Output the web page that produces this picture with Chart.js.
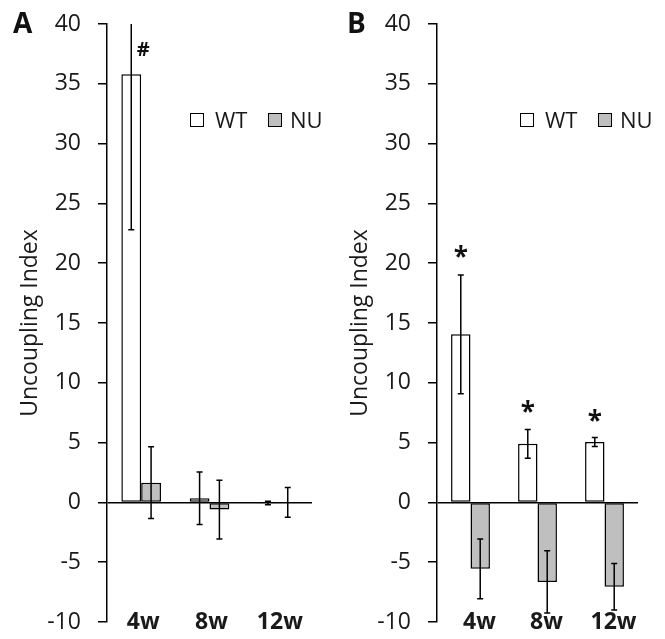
<!DOCTYPE html>
<html><head><meta charset="utf-8">
<script src="https://cdn.jsdelivr.net/npm/chart.js@4.4.1/dist/chart.umd.min.js"></script>
<style>
body{margin:0;background:#fff;}
#wrap{position:relative;width:665px;height:639px;overflow:hidden;font-family:"Open Sans",sans-serif;color:#1a1a1a;background:#fff;}
canvas{position:absolute;top:0;}
.panel{position:absolute;font-weight:bold;font-size:28px;line-height:1;color:#111;}
.lt{position:absolute;font-size:22px;line-height:1;top:108px;color:#1a1a1a;}
.box{position:absolute;width:12px;height:12px;border:1.5px solid #000;top:113px;}
</style></head>
<body><div id="wrap">
<canvas id="cA" width="330" height="639" style="left:0;width:330px;height:639px"></canvas>
<canvas id="cB" width="335" height="639" style="left:330px;width:335px;height:639px"></canvas>
<div class="panel" style="left:13px;top:8px">A</div>
<div class="panel" style="left:347px;top:8px">B</div>
<div class="box" style="left:190px;background:#fff"></div><div class="lt" style="left:215px">WT</div>
<div class="box" style="left:268px;background:#bfbfbf"></div><div class="lt" style="left:290px">NU</div>
<div class="box" style="left:520px;background:#fff"></div><div class="lt" style="left:545px">WT</div>
<div class="box" style="left:598px;background:#bfbfbf"></div><div class="lt" style="left:620px">NU</div>
</div>
<script>
const categories = ['4w', '8w', '12w'];
const seriesNames = ['WT', 'NU'];
const yTicks = { min: -10, max: 40, step: 5 };
const axisTitle = 'Uncoupling Index';

// Panel A
const wtA = [35.8, 0.35, -0.05];
const wtErrA = [13.0, 2.2, 0.15];
const nuA = [1.65, -0.6, 0.0];
const nuErrA = [3.0, 2.45, 1.25];
const wtMarkA = ['#', '', ''];
const wtMarkValA = [37.9, null, null];

// Panel B
const wtB = [14.05, 4.9, 5.05];
const wtErrB = [4.97, 1.2, 0.37];
const nuB = [-5.55, -6.65, -7.05];
const nuErrB = [2.5, 2.6, 1.95];
const wtMarkB = ['*', '*', '*'];
const wtMarkValB = [21.0, 8.0, 7.3];

const FONT = '"Open Sans", sans-serif';
const TXT = '#1a1a1a';

const errPlugin = {
  id: 'errbars',
  afterDatasetsDraw(chart, args, opts) {
    const { ctx, chartArea: ca } = chart;
    const y = chart.scales.y;
    ctx.save();
    ctx.strokeStyle = '#000';
    ctx.lineWidth = 1.5;
    chart.data.datasets.forEach((ds, di) => {
      const meta = chart.getDatasetMeta(di);
      ds.errors.forEach((e, i) => {
        const v = ds.data[i];
        const x = meta.data[i].x;
        let yh = y.getPixelForValue(v + e);
        let yl = y.getPixelForValue(v - e);
        const capH = yh >= ca.top - 0.5;
        const capL = yl <= ca.bottom + 0.5;
        yh = Math.max(yh, ca.top);
        yl = Math.min(yl, ca.bottom);
        ctx.beginPath();
        ctx.moveTo(x, yh); ctx.lineTo(x, yl);
        if (capH) { ctx.moveTo(x - 3, yh); ctx.lineTo(x + 3, yh); }
        if (capL) { ctx.moveTo(x - 3, yl); ctx.lineTo(x + 3, yl); }
        ctx.stroke();
      });
      if (ds.marks) {
        ds.marks.forEach((t, i) => {
          if (!t) return;
          const x = meta.data[i].x + (opts.dx || 0);
          const yy = y.getPixelForValue(ds.markValues[i]);
          ctx.font = opts.font;
          ctx.fillStyle = '#111';
          ctx.textAlign = 'center';
          ctx.textBaseline = 'alphabetic';
          const m = ctx.measureText(t);
          const off = (m.actualBoundingBoxAscent - m.actualBoundingBoxDescent) / 2;
          ctx.fillText(t, x, yy + off);
        });
      }
    });
    ctx.restore();
  }
};

function makeChart(id, wt, wtErr, nu, nuErr, marks, markVals, rightPad, labelOffset, markOpts) {
  return new Chart(document.getElementById(id), {
    type: 'bar',
    data: {
      labels: categories,
      datasets: [
        { label: seriesNames[0], data: wt, errors: wtErr, marks: marks, markValues: markVals,
          backgroundColor: '#ffffff', borderColor: '#000', borderWidth: 1.5, borderSkipped: false },
        { label: seriesNames[1], data: nu, errors: nuErr,
          backgroundColor: '#bfbfbf', borderColor: '#000', borderWidth: 1.5, borderSkipped: false }
      ]
    },
    options: {
      responsive: false,
      animation: false,
      devicePixelRatio: 1,
      layout: { padding: { top: 24, right: rightPad, left: 0, bottom: 0 } },
      plugins: { legend: { display: false }, tooltip: { enabled: false }, errbars: markOpts },
      datasets: { bar: { categoryPercentage: 0.58, barPercentage: 1.0 } },
      scales: {
        x: {
          grid: { display: false, drawTicks: false },
          border: { display: false },
          ticks: { font: { family: FONT, size: 23, weight: 'bold' }, color: TXT, padding: -13.8, mirror: true, labelOffset: labelOffset, maxRotation: 0, autoSkip: false },
          afterFit: s => { s.height = 17; s.paddingTop = 0; s.paddingBottom = 0; }
        },
        y: {
          min: yTicks.min, max: yTicks.max,
          ticks: { stepSize: yTicks.step, font: { family: FONT, size: 23 }, color: TXT, padding: 17 },
          grid: {
            color: c => (c.tick && c.tick.value === 0) ? '#000' : 'rgba(0,0,0,0)',
            lineWidth: 1.5, tickColor: '#000', tickLength: 9, drawTicks: true
          },
          border: { display: true, color: '#000', width: 1.5 },
          title: { display: true, text: axisTitle, font: { family: FONT, size: 23 }, color: TXT, padding: { top: 17, bottom: 0 } },
          afterFit: s => { s.width = 107; s.paddingTop = 0; s.paddingBottom = 0; }
        }
      }
    },
    plugins: [errPlugin]
  });
}

makeChart('cA', wtA, wtErrA, nuA, nuErrA, wtMarkA, wtMarkValA, 18, 2,
  { dx: 12, font: 'bold 20px ' + FONT });
makeChart('cB', wtB, wtErrB, nuB, nuErrB, wtMarkB, wtMarkValB, 27, 9,
  { dx: 0, font: 'bold 26px ' + FONT });
</script>
</body></html>
